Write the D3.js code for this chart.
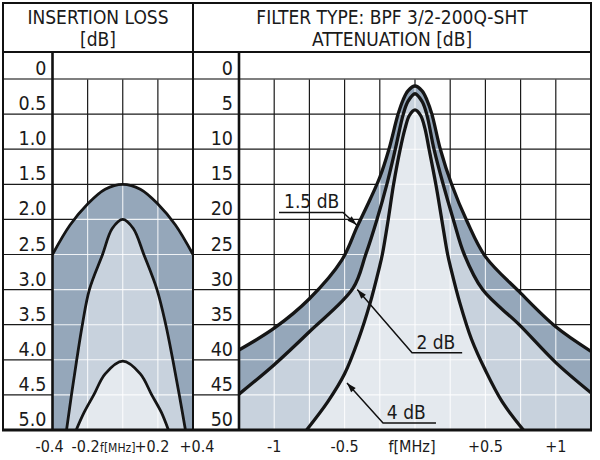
<!DOCTYPE html>
<html><head><meta charset="utf-8">
<script src="https://cdn.jsdelivr.net/npm/d3@7"></script>
<style>
body{margin:0;background:#fff;}
svg text{font-family:"DejaVu Sans Condensed","DejaVu Sans",sans-serif;font-stretch:condensed;fill:#1a1a1a;}
</style></head><body>
<svg id="c" width="600" height="460"></svg>
<script>
// ---------- data ----------
const ilTicks = [0,0.5,1,1.5,2,2.5,3,3.5,4,4.5,5];
const ilTickLabels = ["0","0.5","1.0","1.5","2.0","2.5","3.0","3.5","4.0","4.5","5.0"];
const attTicks = [0,5,10,15,20,25,30,35,40,45,50];
const attTickLabels = ["0","5","10","15","20","25","30","35","40","45","50"];
const ilFreqTicks = [-0.4,-0.2,0,0.2,0.4];
const ilFreqLabels = ["-0.4","-0.2","f[MHz]","+0.2","+0.4"];
const attFreqTicks = [-1,-0.5,0,0.5,1];
const attFreqLabels = ["-1","-0.5","f[MHz]","+0.5","+1"];
const curveNames = ["1.5 dB","2 dB","4 dB"];

// insertion loss curves [f MHz, dB]
const il15 = [[-0.4,2.5],[-0.3,2.08],[-0.2,1.78],[-0.1,1.57],[0,1.5],[0.1,1.57],[0.2,1.78],[0.3,2.08],[0.4,2.5]];
const il2 = [[-0.32,5.0],[-0.292,4.5],[-0.262,4.0],[-0.23,3.5],[-0.19,3.0],[-0.115,2.5],[-0.06,2.13],[0,2.0],[0.06,2.13],[0.12,2.5],[0.195,3.0],[0.245,3.5],[0.285,4.0],[0.322,4.5],[0.357,5.0]];
const il4 = [[-0.265,5.0],[-0.22,4.75],[-0.165,4.5],[-0.1,4.2],[0,4.02],[0.1,4.2],[0.165,4.5],[0.22,4.75],[0.26,5.0]];

// attenuation curves [f MHz, dB]
const att15 = [[-1.25,38.6],[-1.0,35.5],[-0.75,31.3],[-0.52,25.8],[-0.41,21.0],[-0.32,17.2],[-0.25,14.0],[-0.185,10.0],[-0.12,5.0],[-0.085,3.0],[-0.05,1.7],[0,1.0],[0.05,1.7],[0.085,3.0],[0.12,5.0],[0.18,10.0],[0.26,15.0],[0.37,20.3],[0.5,25.3],[0.74,30.3],[1.0,35.3],[1.25,38.8]];
const att2 = [[-1.25,44.9],[-1.0,40.7],[-0.75,36.0],[-0.44,29.8],[-0.35,25.0],[-0.27,20.0],[-0.2,15.0],[-0.14,10.0],[-0.083,5.0],[-0.05,3.2],[0,2.1],[0.05,3.2],[0.083,5.0],[0.135,10.0],[0.2,15.0],[0.272,20.0],[0.35,25.0],[0.48,30.0],[0.74,35.0],[1.0,40.4],[1.25,44.7]];
const att4 = [[-0.77,50],[-0.62,46],[-0.5,42],[-0.4,37],[-0.32,32],[-0.255,27],[-0.232,25],[-0.19,20],[-0.152,15],[-0.105,10],[-0.07,7],[-0.04,5.2],[0,4.4],[0.04,5.2],[0.07,7],[0.1,10],[0.148,15],[0.19,20],[0.232,25],[0.255,27],[0.32,32],[0.4,37],[0.5,41.5],[0.62,46],[0.77,50]];

// ---------- layout ----------
const fills = ["#95a7ba","#c8d2dd","#e4e9ee"];
const svg = d3.select("#c");
const L = 3, R = 591, T = 3, HB = 52, MID = 193, PL = 52.5, PR = 239;
const xL = d3.scaleLinear().domain([-0.4,0.4]).range([PL,MID]);
const yL = d3.scaleLinear().domain([0,5]).range([79,430]);
const xR = d3.scaleLinear().domain([-1.25,1.25]).range([PR,R]);
const yR = d3.scaleLinear().domain([0,50]).range([79,430]);
const smooth = d3.curveCatmullRom.alpha(0.5);

svg.append("rect").attr("width",600).attr("height",460).attr("fill","#fff");

const defs = svg.append("defs");
defs.append("marker").attr("id","arr").attr("viewBox","0 0 12 10").attr("refX",12).attr("refY",5)
  .attr("markerWidth",11).attr("markerHeight",8).attr("markerUnits","userSpaceOnUse").attr("orient","auto")
  .append("path").attr("d","M0,1.2 L12,5 L0,8.8 Z").attr("fill","#111");

const areaL = d3.area().x(d=>xL(d[0])).y0(yL(5)).y1(d=>yL(d[1])).curve(smooth);
const lineL = d3.line().x(d=>xL(d[0])).y(d=>yL(d[1])).curve(smooth);
const areaR = d3.area().x(d=>xR(d[0])).y0(yR(50)).y1(d=>yR(d[1])).curve(smooth);
const lineR = d3.line().x(d=>xR(d[0])).y(d=>yR(d[1])).curve(smooth);

defs.append("clipPath").attr("id","clipL").append("path").attr("d",areaL(il15));
defs.append("clipPath").attr("id","clipR").append("path").attr("d",areaR(att15));
defs.append("clipPath").attr("id","plotL").append("rect").attr("x",PL).attr("y",79).attr("width",MID-PL).attr("height",351);
defs.append("clipPath").attr("id","plotR").append("rect").attr("x",PR).attr("y",79).attr("width",R-PR).attr("height",351);

// black grid
const grid = svg.append("g").attr("stroke","#1a1a1a").attr("stroke-width",1.2);
ilTicks.filter(v=>v>0&&v<5).forEach(v=>grid.append("line").attr("x1",L).attr("x2",MID).attr("y1",yL(v)).attr("y2",yL(v)));
attTicks.filter(v=>v>0&&v<50).forEach(v=>grid.append("line").attr("x1",MID).attr("x2",R).attr("y1",yR(v)).attr("y2",yR(v)));
const gridFL = d3.range(-0.2,0.21,0.2);
const gridFR = d3.range(-1,1.01,0.25);
gridFL.forEach(f=>grid.append("line").attr("x1",xL(f)).attr("x2",xL(f)).attr("y1",yL(0)).attr("y2",yL(5)));
gridFR.forEach(f=>grid.append("line").attr("x1",xR(f)).attr("x2",xR(f)).attr("y1",yR(0)).attr("y2",yR(50)));
svg.append("line").attr("x1",L).attr("x2",R).attr("y1",yL(0)).attr("y2",yL(0)).attr("stroke","#555").attr("stroke-width",1.4);

// fills
const gL = svg.append("g").attr("clip-path","url(#plotL)");
[il15,il2,il4].forEach((c,i)=>gL.append("path").attr("d",areaL(c)).attr("fill",fills[i]));
const gR = svg.append("g").attr("clip-path","url(#plotR)");
[att15,att2,att4].forEach((c,i)=>gR.append("path").attr("d",areaR(c)).attr("fill",fills[i]));

// white grid over shaded areas
const wgL = svg.append("g").attr("clip-path","url(#clipL)").attr("stroke","#fff").attr("stroke-opacity",0.85).attr("stroke-width",1.1);
ilTicks.filter(v=>v>0&&v<5).forEach(v=>wgL.append("line").attr("x1",PL).attr("x2",MID).attr("y1",yL(v)).attr("y2",yL(v)));
gridFL.forEach(f=>wgL.append("line").attr("x1",xL(f)).attr("x2",xL(f)).attr("y1",yL(0)).attr("y2",yL(5)));
const wgR = svg.append("g").attr("clip-path","url(#clipR)").attr("stroke","#fff").attr("stroke-opacity",0.85).attr("stroke-width",1.1);
attTicks.filter(v=>v>0&&v<50).forEach(v=>wgR.append("line").attr("x1",PR).attr("x2",R).attr("y1",yR(v)).attr("y2",yR(v)));
gridFR.forEach(f=>wgR.append("line").attr("x1",xR(f)).attr("x2",xR(f)).attr("y1",yR(0)).attr("y2",yR(50)));

// curves
const cL = svg.append("g").attr("clip-path","url(#plotL)");
[il15,il2,il4].forEach(c=>cL.append("path").attr("d",lineL(c)).attr("fill","none").attr("stroke","#151515").attr("stroke-width",2.8));
const cR = svg.append("g").attr("clip-path","url(#plotR)");
[att15,att2,att4].forEach(c=>cR.append("path").attr("d",lineR(c)).attr("fill","none").attr("stroke","#151515").attr("stroke-width",3.3));

// frame
const fr = svg.append("g").attr("stroke","#111").attr("fill","none");
fr.append("rect").attr("x",L).attr("y",T).attr("width",R-L).attr("height",yL(5)-T).attr("stroke-width",2);
fr.append("line").attr("x1",L).attr("x2",R).attr("y1",HB).attr("y2",HB).attr("stroke-width",2);
fr.append("line").attr("x1",MID).attr("x2",MID).attr("y1",T).attr("y2",yL(5)).attr("stroke-width",2);
fr.append("line").attr("x1",PL).attr("x2",PL).attr("y1",HB).attr("y2",yL(5)).attr("stroke-width",2.6);
fr.append("line").attr("x1",PR).attr("x2",PR).attr("y1",HB).attr("y2",yL(5)).attr("stroke-width",2.6);
fr.append("line").attr("x1",L-1).attr("x2",R+1).attr("y1",yL(5)).attr("y2",yL(5)).attr("stroke-width",2.8);

// headers
const hd = svg.append("g").attr("text-anchor","middle").style("font-size","19px");
hd.append("text").attr("x",(L+MID)/2).attr("y",24).text("INSERTION LOSS");
hd.append("text").attr("x",(L+MID)/2).attr("y",46).text("[dB]");
hd.append("text").attr("x",(MID+R)/2).attr("y",24).text("FILTER TYPE: BPF 3/2-200Q-SHT");
hd.append("text").attr("x",(MID+R)/2).attr("y",46).text("ATTENUATION [dB]");

// y tick labels
const yt = svg.append("g").attr("text-anchor","end").style("font-size","19.5px");
ilTicks.forEach((v,i)=>yt.append("text").attr("x",PL-6).attr("y",yL(v)-4).text(ilTickLabels[i]));
attTicks.forEach((v,i)=>yt.append("text").attr("x",PR-6).attr("y",yR(v)-4).text(attTickLabels[i]));

// x tick labels
const xt = svg.append("g").attr("text-anchor","middle").style("font-size","16px");
const ilOff = [-3,-2,-5,-6,4];
ilFreqTicks.forEach((f,i)=>xt.append("text").attr("x",xL(f)+ilOff[i]).attr("y",452)
  .style("font-size",f===0?"12px":"16px").text(ilFreqLabels[i]));
attFreqTicks.forEach((f,i)=>xt.append("text").attr("x",xR(f)+(f===0?-3:0)).attr("y",452).text(attFreqLabels[i]));

// annotations
const ann = [
  {tip:[-0.414,20.8], u0:-0.966, u1:-0.511, uy:19.0, tx:-0.93},
  {tip:[-0.41,30.0], u0:0.335, u1:-0.021, uy:39.0, tx:0.01},
  {tip:[-0.483,43.3], u0:0.149, u1:-0.227, uy:49.0, tx:-0.2}
];
const an = svg.append("g");
ann.forEach((a,i)=>{
  const y = yR(a.uy);
  an.append("path").attr("d",`M${xR(a.u0)},${y}L${xR(a.u1)},${y}L${xR(a.tip[0])},${yR(a.tip[1])}`)
    .attr("fill","none").attr("stroke","#111").attr("stroke-width",1.5).attr("marker-end","url(#arr)");
  an.append("text").attr("x",xR(a.tx)).attr("y",y-4).style("font-size","19px").text(curveNames[i]);
});
</script></body></html>
